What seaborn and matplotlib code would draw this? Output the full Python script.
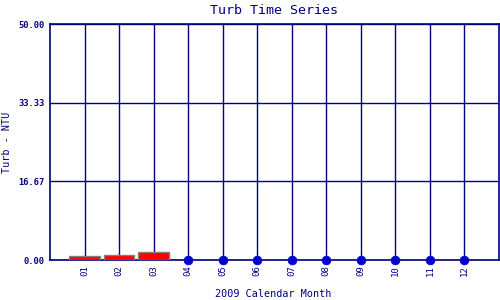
import matplotlib
matplotlib.use("Agg")
import matplotlib.pyplot as plt
import seaborn as sns
import pandas as pd

months = ["01", "02", "03", "04", "05", "06", "07", "08", "09", "10", "11", "12"]
bar_months = [1, 2, 3]
bar_values = [0.90, 1.12, 1.70]
dot_months = [4, 5, 6, 7, 8, 9, 10, 11, 12]
dot_values = [0, 0, 0, 0, 0, 0, 0, 0, 0]
yticks = [0.0, 16.67, 33.33, 50.0]

sns.set_style("white")
plt.rcParams['font.family'] = ['DejaVu Sans Mono', 'DejaVu Sans']

navy = "#000080"
fig = plt.figure(figsize=(5, 3), dpi=100)
ax = fig.add_axes([0.10, 0.1333, 0.898, 0.7867])

bars = pd.DataFrame({"m": bar_months, "v": bar_values})
dots = pd.DataFrame({"m": dot_months, "v": dot_values})

sns.barplot(data=bars, x="m", y="v", native_scale=True, width=0.89,
            color="#ff0000", saturation=1, edgecolor="#808080", linewidth=1,
            ax=ax, zorder=3)
sns.scatterplot(data=dots, x="m", y="v", color="#0000cc", s=40,
                edgecolor="#0000cc", ax=ax, zorder=4, clip_on=False)

ax.set_xlim(0, 13)
ax.set_ylim(0, 50)
ax.set_xticks(range(1, 13))
ax.set_xticklabels(months, rotation=90, fontsize=6.5, color=navy)
ax.set_yticks(yticks)
ax.set_yticklabels([f"{v:.2f}" for v in yticks], fontsize=6.3, color=navy,
                   fontweight="bold")
ax.tick_params(length=0, pad=4)
ax.grid(True, color=navy, linewidth=1)
ax.set_axisbelow(True)
for s in ax.spines.values():
    s.set_color(navy)
    s.set_linewidth(1.2)

ax.set_title("Turb Time Series", fontsize=9.6, color=navy, pad=7)
ax.set_xlabel("")
ax.set_ylabel("")
fig.text(273 / 500, 1 - 294 / 300, "2009 Calendar Month", fontsize=7.3,
         color=navy, ha="center", va="center")
fig.text(7 / 500, 1 - 142 / 300, "Turb - NTU", fontsize=7.3, color=navy,
         ha="center", va="center", rotation=90)

fig.savefig("out.png", dpi=100)
